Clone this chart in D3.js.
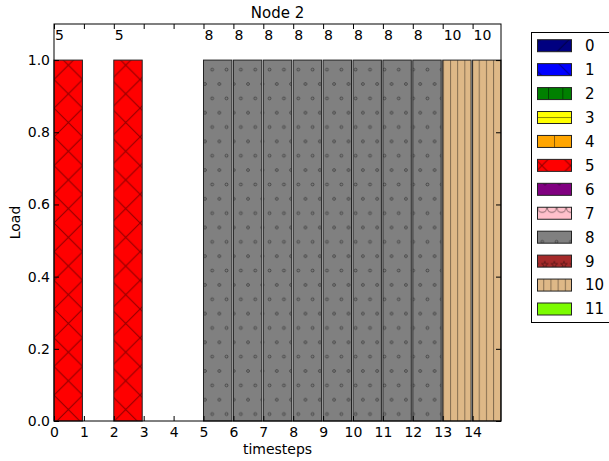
<!DOCTYPE html>
<html>
<head>
<meta charset="utf-8">
<script src="https://cdn.jsdelivr.net/npm/d3@7"></script>
<style>
  html, body { margin: 0; padding: 0; background: #fff; }
  svg { display: block; font-family: "DejaVu Sans", sans-serif; }
</style>
</head>
<body>
<svg id="chart" width="609" height="461"></svg>
<script>
// ---- data ----
const timesteps = [0, 1, 2, 3, 4, 5, 6, 7, 8, 9, 10, 11, 12, 13, 14];
const taskAtStep = [5, null, 5, null, null, 8, 8, 8, 8, 8, 8, 8, 8, 10, 10];
const loads = [1, 0, 1, 0, 0, 1, 1, 1, 1, 1, 1, 1, 1, 1, 1];
const legendTasks = [0, 1, 2, 3, 4, 5, 6, 7, 8, 9, 10, 11];
const taskColors = ["#000080", "#0000ff", "#008000", "#ffff00", "#ffa500", "#ff0000",
                    "#800080", "#ffc0cb", "#808080", "#a52a2a", "#deb887", "#7cfc00"];
const taskHatches = ["/", "\\", "|", "-", "+", "x", "o", "O", ".", "*", "||", ""];
const xTicks = [0, 1, 2, 3, 4, 5, 6, 7, 8, 9, 10, 11, 12, 13, 14];
const yTicks = [0.0, 0.2, 0.4, 0.6, 0.8, 1.0];
const title = "Node 2";
const xLabel = "timesteps";
const yLabel = "Load";

// ---- layout ----
const L = 54, R = 501, T = 24, B = 421;
const barW = 0.95;
const x = d3.scaleLinear().domain([0, 14 + barW]).range([L, R]);
const y = d3.scaleLinear().domain([0, 1.1]).range([B, T]);

const svg = d3.select("#chart");
const defs = svg.append("defs");
const U = 28.7; // hatch unit
const hs = "rgba(0,0,0,0.45)";

function pat(id, w, h, px, py) {
  return defs.append("pattern").attr("id", id).attr("patternUnits", "userSpaceOnUse")
    .attr("width", w).attr("height", h).attr("x", px).attr("y", py);
}
legendTasks.forEach((t, i) => {
  const h = taskHatches[i], c = taskColors[i];
  let p;
  if (h === "x") {
    p = pat("h" + t, U, U, 54, 223);
    p.append("rect").attr("width", U).attr("height", U).attr("fill", c);
    p.append("path").attr("d", `M0,0L${U},${U}M0,${U}L${U},0`).attr("stroke", hs).attr("stroke-width", 1);
  } else if (h === "/") {
    p = pat("h" + t, U, U, 560, 20);
    p.append("rect").attr("width", U).attr("height", U).attr("fill", c);
    p.append("path").attr("d", `M0,${U}L${U},0M-2,2L2,-2M${U-2},${U+2}L${U+2},${U-2}`).attr("stroke", hs);
  } else if (h === "\\") {
    p = pat("h" + t, U, U, 545, 50);
    p.append("rect").attr("width", U).attr("height", U).attr("fill", c);
    p.append("path").attr("d", `M0,0L${U},${U}`).attr("stroke", hs);
  } else if (h === "|") {
    p = pat("h" + t, U / 2, 10, 548, 0);
    p.append("rect").attr("width", U / 2).attr("height", 10).attr("fill", c);
    p.append("path").attr("d", "M0.5,0V10").attr("stroke", hs);
  } else if (h === "-") {
    p = pat("h" + t, 10, U / 2, 0, 117);
    p.append("rect").attr("width", 10).attr("height", U / 2).attr("fill", c);
    p.append("path").attr("d", "M0,0.5H10").attr("stroke", hs);
  } else if (h === "+") {
    p = pat("h" + t, U, 30, 554, 0);
    p.append("rect").attr("width", U).attr("height", 30).attr("fill", c);
    p.append("path").attr("d", "M0.5,0V30").attr("stroke", hs);
  } else if (h === "o" || h === ".") {
    const px = h === "." ? 205 : 545, py = h === "." ? 112.7 : 183.5;
    p = pat("h" + t, U / 2, U, px, py);
    p.append("rect").attr("width", U / 2).attr("height", U).attr("fill", c);
    [[0, 0], [U / 2, 0], [0, U], [U / 2, U], [U / 4, U / 2]].forEach(([cx, cy]) =>
      p.append("circle").attr("cx", cx).attr("cy", cy).attr("r", 1.4)
        .attr("fill", "none").attr("stroke", "rgba(0,0,0,0.5)").attr("stroke-width", 0.8));
  } else if (h === "O") {
    p = pat("h" + t, U / 3, U, 537.5, 179.5);
    p.append("rect").attr("width", U / 3).attr("height", U).attr("fill", c);
    p.append("circle").attr("cx", U / 6).attr("cy", 0).attr("r", 4.3)
      .attr("fill", "none").attr("stroke", hs);
    p.append("circle").attr("cx", U / 6).attr("cy", U).attr("r", 4.3)
      .attr("fill", "none").attr("stroke", hs);
  } else if (h === "*") {
    p = pat("h" + t, U / 3, U, 540, 236);
    p.append("rect").attr("width", U / 3).attr("height", U).attr("fill", c);
    const star = d3.symbol().type(d3.symbolStar).size(14)();
    p.append("path").attr("d", star).attr("transform", `translate(${U / 6},0)`)
      .attr("fill", "none").attr("stroke", hs).attr("stroke-width", 0.8);
    p.append("path").attr("d", star).attr("transform", `translate(${U / 6},${U})`)
      .attr("fill", "none").attr("stroke", hs).attr("stroke-width", 0.8);
  } else if (h === "||") {
    p = pat("h" + t, U / 4, 10, 450, 0);
    p.append("rect").attr("width", U / 4).attr("height", 10).attr("fill", c);
    p.append("path").attr("d", "M0.5,0V10").attr("stroke", "rgba(0,0,0,0.4)");
  } else {
    p = pat("h" + t, 10, 10, 0, 0);
    p.append("rect").attr("width", 10).attr("height", 10).attr("fill", c);
  }
});

// ---- bars ----
const barData = timesteps.map((t, i) => ({ t, task: taskAtStep[i], load: loads[i] }))
  .filter(d => d.task !== null);

svg.append("g").selectAll("rect").data(barData).join("rect")
  .attr("x", d => x(d.t))
  .attr("y", d => y(d.load))
  .attr("width", d => x(d.t + barW) - x(d.t))
  .attr("height", d => y(0) - y(d.load))
  .attr("fill", d => `url(#h${d.task})`)
  .attr("stroke", "#222")
  .attr("stroke-width", 1);

// ---- top labels ----
svg.append("g").selectAll("text").data(barData).join("text")
  .attr("x", d => x(d.t) + 1)
  .attr("y", 40)
  .attr("font-size", 14)
  .attr("fill", "#000")
  .text(d => d.task);

// ---- axes ----
const tick = 5;
const gx = svg.append("g").attr("transform", `translate(0,${B})`)
  .call(d3.axisBottom(x).tickValues(xTicks).tickFormat(d3.format("d")).tickSize(-tick).tickPadding(6));
const gxt = svg.append("g").attr("transform", `translate(0,${T})`)
  .call(d3.axisTop(x).tickValues(xTicks).tickFormat("").tickSize(-tick));
const gy = svg.append("g").attr("transform", `translate(${L},0)`)
  .call(d3.axisLeft(y).tickValues(yTicks).tickFormat(d3.format(".1f")).tickSize(-tick).tickPadding(4));
const gyr = svg.append("g").attr("transform", `translate(${R},0)`)
  .call(d3.axisRight(y).tickValues(yTicks).tickFormat("").tickSize(-tick));
[gx, gxt, gy, gyr].forEach(g => {
  g.select(".domain").remove();
  g.selectAll("line").attr("stroke", "#000");
  g.selectAll("text").attr("font-size", 14).attr("font-family", "DejaVu Sans").attr("fill", "#000");
});

svg.append("rect").attr("x", L).attr("y", T).attr("width", R - L).attr("height", B - T)
  .attr("fill", "none").attr("stroke", "#000").attr("stroke-width", 1);

// ---- titles ----
svg.append("text").attr("x", (L + R) / 2).attr("y", 18).attr("text-anchor", "middle")
  .attr("font-size", 15).text(title);
svg.append("text").attr("x", (L + R) / 2).attr("y", 454).attr("text-anchor", "middle")
  .attr("font-size", 14).text(xLabel);
svg.append("text").attr("transform", `translate(20,${(T + B) / 2}) rotate(-90)`)
  .attr("text-anchor", "middle").attr("font-size", 14).text(yLabel);

// ---- legend ----
const lg = svg.append("g");
lg.append("rect").attr("x", 531.5).attr("y", 32.5).attr("width", 90).attr("height", 290)
  .attr("fill", "#fff").attr("stroke", "#000").attr("stroke-width", 1);
const ly = d3.scalePoint().domain(legendTasks).range([45.7, 309]);
const items = lg.selectAll("g.item").data(legendTasks).join("g").attr("class", "item");
items.append("rect").attr("x", 537.5).attr("y", d => ly(d) - 6).attr("width", 34).attr("height", 12)
  .attr("fill", d => `url(#h${d})`).attr("stroke", "#222").attr("stroke-width", 1);
items.append("text").attr("x", 585).attr("y", d => ly(d)).attr("dy", "0.36em")
  .attr("font-size", 15).text(d => d);
</script>
</body>
</html>
